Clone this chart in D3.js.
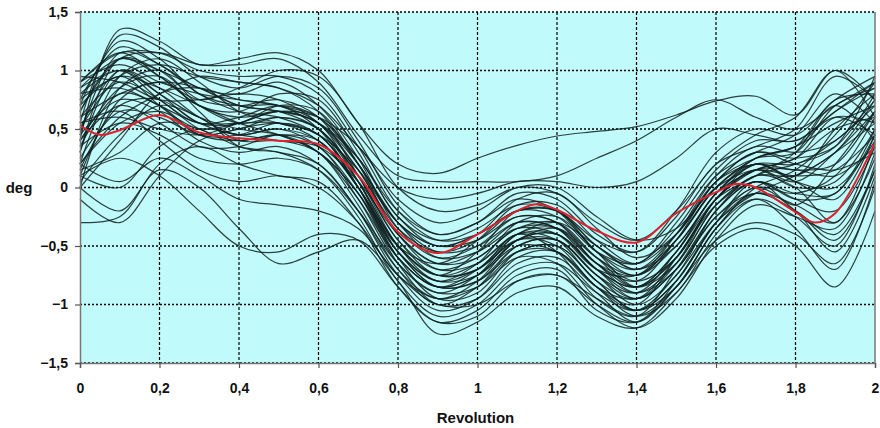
<!DOCTYPE html>
<html>
<head>
<meta charset="utf-8">
<script src="https://cdn.jsdelivr.net/npm/d3@7"></script>
<style>
  body { margin: 0; background: #fff; }
  text { font-family: "Liberation Sans", Arial, sans-serif; font-weight: bold; font-size: 15px; fill: #111; }
</style>
</head>
<body>
<script>
// sample positions for the black runs (revolution)
let xs = [0, 0.1, 0.2, 0.3, 0.4, 0.5, 0.6, 0.7, 0.8, 0.9, 1, 1.1, 1.2, 1.3, 1.4, 1.5, 1.6, 1.7, 1.8, 1.9, 2];

// individual runs, deg at each xs
let runs = [
  [0.55, 1.30, 1.20, 0.95, 0.85, 0.95, 0.85, 0.40, -0.15, -0.40, -0.30, -0.05, -0.10, -0.40, -0.55, -0.25, 0.20, 0.35, 0.50, 0.95, 0.75],
  [0.75, 1.20, 1.05, 0.85, 0.80, 0.90, 0.70, 0.25, -0.35, -0.60, -0.50, -0.25, -0.30, -0.65, -0.80, -0.45, 0.05, 0.25, 0.30, 0.70, 0.85],
  [0.30, 1.10, 1.00, 0.75, 0.70, 0.75, 0.60, 0.10, -0.50, -0.80, -0.70, -0.45, -0.50, -0.85, -1.00, -0.60, -0.10, 0.20, 0.10, 0.50, 0.80],
  [0.90, 1.05, 0.90, 0.80, 0.75, 0.70, 0.55, 0.05, -0.55, -0.85, -0.80, -0.50, -0.45, -0.75, -0.90, -0.55, -0.05, 0.15, 0.25, 0.60, 0.55],
  [0.20, 0.95, 1.10, 0.90, 0.65, 0.55, 0.45, 0.00, -0.60, -0.95, -0.90, -0.55, -0.50, -0.80, -1.05, -0.80, -0.30, 0.05, -0.15, 0.20, 0.65],
  [0.00, 0.85, 1.00, 0.70, 0.55, 0.60, 0.50, 0.10, -0.45, -0.75, -0.70, -0.40, -0.55, -0.95, -1.10, -0.70, -0.20, 0.10, 0.00, -0.30, 0.40],
  [0.90, 1.15, 0.95, 0.70, 0.60, 0.65, 0.55, 0.20, -0.30, -0.60, -0.55, -0.35, -0.40, -0.70, -0.75, -0.40, 0.10, 0.35, 0.30, 0.40, 0.75],
  [0.50, 1.00, 0.85, 0.60, 0.45, 0.50, 0.35, -0.05, -0.65, -1.00, -0.95, -0.65, -0.60, -0.90, -1.15, -0.85, -0.35, 0.00, 0.15, 0.45, 0.90],
  [0.10, 0.75, 0.90, 0.75, 0.85, 1.00, 0.95, 0.55, 0.00, -0.20, -0.15, 0.00, -0.05, -0.30, -0.45, -0.20, 0.20, 0.45, 0.60, 1.00, 0.60],
  [0.40, 1.35, 1.25, 1.05, 1.10, 1.15, 1.00, 0.55, 0.20, 0.12, 0.25, 0.36, 0.44, 0.48, 0.52, 0.62, 0.74, 0.78, 0.62, 1.00, 0.75],
  [0.65, 1.10, 1.15, 1.05, 1.05, 1.10, 0.90, 0.45, 0.10, 0.05, 0.05, 0.05, 0.10, 0.25, 0.40, 0.60, 0.75, 0.60, 0.50, 0.70, 0.90],
  [0.20, 0.60, 0.80, 0.95, 0.90, 0.85, 0.70, 0.35, 0.00, -0.10, -0.05, 0.05, 0.05, 0.00, 0.05, 0.25, 0.50, 0.45, 0.40, 0.65, 0.85],
  [0.85, 1.00, 0.80, 0.60, 0.50, 0.45, 0.30, -0.10, -0.60, -0.85, -0.70, -0.40, -0.30, -0.50, -0.70, -0.50, -0.05, 0.20, 0.05, -0.10, 0.45],
  [0.60, 0.90, 0.75, 0.50, 0.40, 0.45, 0.30, -0.15, -0.70, -1.00, -0.85, -0.50, -0.45, -0.75, -1.00, -0.75, -0.20, 0.05, -0.10, -0.05, 0.50],
  [0.40, 0.85, 0.95, 0.65, 0.35, 0.30, 0.20, -0.20, -0.75, -1.05, -0.95, -0.60, -0.55, -0.85, -1.10, -0.90, -0.40, -0.10, -0.25, -0.50, 0.20],
  [0.70, 0.95, 0.70, 0.45, 0.45, 0.55, 0.45, 0.00, -0.55, -0.80, -0.65, -0.30, -0.25, -0.55, -0.85, -0.65, -0.15, 0.10, 0.20, 0.35, 0.95],
  [0.25, 0.65, 0.60, 0.45, 0.50, 0.60, 0.50, 0.05, -0.50, -0.75, -0.55, -0.20, -0.20, -0.55, -0.75, -0.45, 0.00, 0.25, 0.35, 0.55, 0.70],
  [0.05, 0.45, 0.70, 0.60, 0.40, 0.40, 0.30, -0.05, -0.55, -0.80, -0.75, -0.50, -0.55, -0.85, -0.95, -0.60, -0.15, 0.05, -0.05, -0.05, 0.45],
  [0.80, 0.85, 0.70, 0.55, 0.55, 0.55, 0.40, 0.00, -0.50, -0.65, -0.45, -0.15, -0.15, -0.45, -0.65, -0.40, 0.05, 0.30, 0.20, 0.15, 0.30],
  [0.45, 0.75, 0.65, 0.40, 0.30, 0.35, 0.20, -0.20, -0.70, -0.95, -0.80, -0.45, -0.40, -0.70, -0.95, -0.70, -0.25, 0.00, -0.05, 0.10, 0.60],
  [0.15, 0.30, 0.55, 0.50, 0.35, 0.30, 0.15, -0.25, -0.80, -1.10, -1.00, -0.70, -0.65, -0.90, -1.05, -0.75, -0.30, -0.05, -0.20, -0.40, 0.15],
  [0.35, 0.55, 0.45, 0.25, 0.20, 0.25, 0.15, -0.20, -0.65, -0.90, -0.85, -0.60, -0.65, -1.00, -1.20, -0.95, -0.45, -0.15, -0.25, -0.35, 0.30],
  [0.10, 0.00, 0.35, 0.50, 0.45, 0.40, 0.35, 0.05, -0.40, -0.65, -0.60, -0.35, -0.35, -0.65, -0.85, -0.60, -0.10, 0.15, 0.25, 0.50, 0.60],
  [-0.10, -0.30, 0.10, 0.40, 0.50, 0.55, 0.45, 0.15, -0.30, -0.50, -0.45, -0.25, -0.30, -0.60, -0.75, -0.50, -0.05, 0.25, 0.35, 0.60, 0.45],
  [0.10, 0.25, 0.10, -0.20, -0.50, -0.55, -0.40, -0.45, -0.85, -1.15, -1.10, -0.80, -0.75, -1.00, -1.15, -0.85, -0.45, -0.30, -0.40, -0.65, 0.00],
  [0.00, -0.20, 0.15, 0.00, -0.35, -0.65, -0.55, -0.45, -0.80, -1.25, -1.15, -0.90, -0.85, -1.10, -1.20, -0.90, -0.50, -0.35, -0.50, -0.85, -0.20],
  [0.20, 0.05, 0.25, 0.10, -0.10, -0.15, -0.20, -0.35, -0.75, -1.00, -1.00, -0.80, -0.75, -0.95, -1.10, -0.85, -0.35, -0.05, -0.15, -0.30, 0.25],
  [-0.30, -0.25, 0.20, 0.35, 0.20, 0.10, 0.05, -0.30, -0.85, -1.15, -1.05, -0.75, -0.70, -1.05, -1.15, -0.80, -0.30, 0.00, -0.20, -0.55, 0.10],
  [0.55, 0.65, 0.40, 0.15, 0.05, 0.10, 0.00, -0.30, -0.75, -0.95, -0.85, -0.55, -0.50, -0.80, -1.05, -0.85, -0.35, -0.10, -0.35, -0.70, 0.05],
  [0.95, 0.90, 0.75, 0.75, 0.80, 0.75, 0.55, 0.15, -0.35, -0.55, -0.45, -0.20, -0.25, -0.55, -0.65, -0.35, 0.10, 0.30, 0.45, 0.80, 0.55],
  [0.65, 1.10, 0.95, 0.70, 0.65, 0.80, 0.75, 0.30, -0.25, -0.45, -0.35, -0.15, -0.20, -0.50, -0.65, -0.30, 0.15, 0.40, 0.40, 0.65, 0.90],
  [0.30, 1.00, 0.80, 0.55, 0.55, 0.70, 0.65, 0.20, -0.40, -0.65, -0.55, -0.30, -0.35, -0.70, -0.85, -0.55, -0.05, 0.20, 0.20, 0.40, 0.70],
  [0.75, 0.95, 0.85, 0.70, 0.55, 0.45, 0.30, -0.05, -0.60, -0.85, -0.75, -0.45, -0.35, -0.60, -0.80, -0.60, -0.10, 0.15, 0.15, 0.10, 0.35],
  [0.45, 1.15, 1.05, 0.80, 0.65, 0.60, 0.45, 0.05, -0.50, -0.75, -0.65, -0.40, -0.45, -0.80, -0.95, -0.65, -0.10, 0.15, 0.05, 0.30, 0.65],
  [0.60, 0.80, 0.90, 0.85, 0.70, 0.65, 0.55, 0.15, -0.40, -0.70, -0.65, -0.40, -0.40, -0.70, -0.90, -0.65, -0.15, 0.10, 0.10, 0.30, 0.55],
  [0.20, 0.55, 0.65, 0.50, 0.55, 0.65, 0.55, 0.25, -0.25, -0.50, -0.40, -0.10, -0.05, -0.35, -0.60, -0.40, 0.05, 0.30, 0.25, 0.35, 0.80],
  [0.85, 1.10, 1.00, 0.85, 0.70, 0.65, 0.50, 0.10, -0.45, -0.70, -0.60, -0.35, -0.30, -0.60, -0.85, -0.60, -0.10, 0.15, 0.00, 0.05, 0.50],
  [0.40, 0.70, 0.55, 0.35, 0.35, 0.45, 0.35, -0.10, -0.65, -0.90, -0.75, -0.40, -0.35, -0.65, -0.90, -0.70, -0.20, 0.05, -0.10, -0.20, 0.35],
  [0.50, 0.95, 1.05, 0.95, 0.90, 0.85, 0.65, 0.20, -0.30, -0.50, -0.40, -0.20, -0.20, -0.50, -0.70, -0.45, 0.00, 0.25, 0.35, 0.75, 0.80],
  [0.00, 0.40, 0.80, 0.85, 0.75, 0.70, 0.60, 0.25, -0.20, -0.40, -0.30, -0.10, -0.20, -0.55, -0.70, -0.40, 0.05, 0.20, 0.15, 0.20, 0.65],
  [0.70, 1.25, 1.10, 0.80, 0.70, 0.70, 0.50, 0.00, -0.60, -0.85, -0.75, -0.45, -0.40, -0.70, -0.85, -0.55, -0.10, 0.10, 0.30, 0.70, 0.40],
  [0.35, 0.80, 0.70, 0.45, 0.40, 0.45, 0.40, 0.00, -0.55, -0.85, -0.80, -0.55, -0.55, -0.85, -1.05, -0.80, -0.30, -0.05, 0.10, 0.30, 0.75],
  [0.80, 1.00, 0.75, 0.55, 0.60, 0.70, 0.60, 0.20, -0.30, -0.55, -0.50, -0.30, -0.35, -0.65, -0.75, -0.45, 0.00, 0.20, 0.05, 0.00, 0.40],
  [0.15, 0.70, 0.75, 0.55, 0.45, 0.50, 0.40, 0.00, -0.50, -0.75, -0.70, -0.45, -0.45, -0.75, -0.95, -0.70, -0.25, -0.05, -0.20, -0.45, 0.15],
  [0.55, 0.60, 0.50, 0.45, 0.55, 0.65, 0.60, 0.35, -0.10, -0.30, -0.20, 0.00, 0.00, -0.25, -0.45, -0.35, 0.00, 0.15, 0.10, 0.15, 0.45],
  [0.90, 1.15, 1.15, 1.00, 0.95, 0.95, 0.80, 0.35, -0.20, -0.45, -0.40, -0.20, -0.20, -0.45, -0.55, -0.20, 0.30, 0.50, 0.45, 0.75, 0.95]
];

// red mean curve
let meanX = [0, 0.05, 0.1, 0.2, 0.3, 0.4, 0.5, 0.6, 0.7, 0.8, 0.9, 1, 1.1, 1.15, 1.2, 1.3, 1.4, 1.5, 1.6, 1.65, 1.7, 1.8, 1.85, 1.9, 2];
let meanY = [0.53, 0.45, 0.49, 0.62, 0.47, 0.42, 0.40, 0.37, 0.10, -0.38, -0.56, -0.40, -0.20, -0.14, -0.19, -0.37, -0.47, -0.22, -0.04, 0.03, 0.00, -0.21, -0.30, -0.22, 0.38];

let xTicks = [0, 0.2, 0.4, 0.6, 0.8, 1, 1.2, 1.4, 1.6, 1.8, 2];
let yTicks = [-1.5, -1, -0.5, 0, 0.5, 1, 1.5];

let margin = {top: 12, right: 5, bottom: 65, left: 80},
    width = 880 - margin.left - margin.right,
    height = 428 - margin.top - margin.bottom;

let locale = d3.formatLocale({decimal: ",", thousands: ".", grouping: [3], currency: ["", ""]});
let fmt = locale.format("~g");

let x = d3.scaleLinear().domain([0, 2]).range([0, width]);
let y = d3.scaleLinear().domain([-1.5, 1.5]).range([height, 0]);

let svg = d3.select("body").append("svg")
    .attr("width", 880)
    .attr("height", 428)
    .append("g")
    .attr("transform", `translate(${margin.left},${margin.top})`);

svg.append("rect")
    .attr("width", width)
    .attr("height", height)
    .style("fill", "#c0fafa");

// grid
svg.append("g").selectAll("line")
    .data(yTicks)
    .enter().append("line")
    .attr("x1", 0).attr("x2", width)
    .attr("y1", d => y(d)).attr("y2", d => y(d))
    .style("stroke", "#000")
    .style("stroke-width", 1.4)
    .style("stroke-dasharray", "2,2");

svg.append("g").selectAll("line")
    .data(xTicks.slice(1, -1))
    .enter().append("line")
    .attr("x1", d => x(d)).attr("x2", d => x(d))
    .attr("y1", 0).attr("y2", height)
    .style("stroke", "#000")
    .style("stroke-width", 1.2)
    .style("stroke-dasharray", "3,2");

let line = d3.line()
    .x((d, i) => x(xs[i]))
    .y(d => y(d))
    .curve(d3.curveCatmullRom.alpha(0.5));

svg.append("g").selectAll("path")
    .data(runs)
    .enter().append("path")
    .attr("d", line)
    .style("fill", "none")
    .style("stroke", "#102020")
    .style("stroke-width", 1.2)
    .style("opacity", 0.85);

let meanLine = d3.line()
    .x((d, i) => x(meanX[i]))
    .y(d => y(d))
    .curve(d3.curveCatmullRom.alpha(0.5));

svg.append("path")
    .datum(meanY)
    .attr("d", meanLine)
    .style("fill", "none")
    .style("stroke", "#e0202c")
    .style("stroke-width", 2);

// frame: solid right side
svg.append("line")
    .attr("x1", width).attr("x2", width)
    .attr("y1", 0).attr("y2", height)
    .style("stroke", "#777")
    .style("stroke-width", 1.5);

let yAxis = svg.append("g")
    .call(d3.axisLeft(y).tickValues(yTicks).tickFormat(fmt).tickSize(5).tickPadding(7));
let xAxis = svg.append("g")
    .attr("transform", `translate(0,${height})`)
    .call(d3.axisBottom(x).tickValues(xTicks).tickFormat(fmt).tickSize(5).tickPadding(15));

[xAxis, yAxis].forEach(a => {
    a.select(".domain").style("stroke", "#777").style("stroke-width", 1.5);
    a.selectAll(".tick line").style("stroke", "#555").style("stroke-width", 1.2);
    a.selectAll("text").style("font-family", "Liberation Sans, Arial, sans-serif")
        .style("font-size", "14px").style("font-weight", "bold").style("fill", "#111");
});

svg.append("text")
    .attr("x", -margin.left + 19)
    .attr("y", y(0) + 5)
    .attr("text-anchor", "middle")
    .text("deg");

svg.append("text")
    .attr("x", width / 2 - 2)
    .attr("y", height + 60)
    .attr("text-anchor", "middle")
    .text("Revolution");
</script>
</body>
</html>
